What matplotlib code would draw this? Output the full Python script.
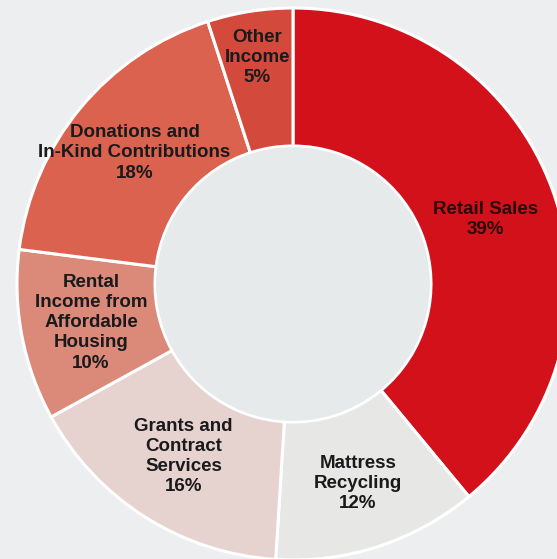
import matplotlib.pyplot as plt
import matplotlib.patches as mpatches
import numpy as np

# Revenue sources (clockwise from 12 o'clock)
labels = ['Retail Sales', 'Mattress\nRecycling', 'Grants and\nContract\nServices',
          'Rental\nIncome from\nAffordable\nHousing', 'Donations and\nIn-Kind Contributions',
          'Other\nIncome']
shares = [39, 12, 16, 10, 18, 5]
colors = ['#D2111B', '#E7E8E6', '#E6D3CF', '#DB8A79', '#DA624F', '#D3493B']
label_dist = [0.735, 0.76, 0.74, 0.745, 0.745, 0.83]
label_turn = [-1.2, 0, 0, 0, 0, 0]   # small angle nudges, degrees

W, H = 557, 559
fig = plt.figure(figsize=(W / 100, H / 100), dpi=100, facecolor='#EDEEEF')
ax = fig.add_axes([0, 0, 1, 1])
ax.set_facecolor('#EDEEEF')

cx, cy = 293, H - 284
R = 276

wedges, _ = ax.pie(shares, colors=colors, startangle=90, counterclock=False,
                   radius=R, center=(cx, cy),
                   wedgeprops=dict(width=R * 0.5, edgecolor='white', linewidth=2.2))

# hole is a touch bluer than the page in the photo
ax.add_patch(mpatches.Circle((cx, cy), R * 0.5 - 1.2, facecolor='#E6EAEA', edgecolor='none', zorder=3))

for w, lab, pct, d, t in zip(wedges, labels, shares, label_dist, label_turn):
    ang = np.deg2rad((w.theta1 + w.theta2) / 2 + t)
    x = cx + d * R * np.cos(ang)
    y = cy + d * R * np.sin(ang)
    txt_color = '#2a0a0a' if lab == 'Retail Sales' else '#1a1a1c'
    ax.text(x, y, f'{lab}\n{pct}%', ha='center', va='center', fontsize=13.5,
            fontweight='bold', family='Liberation Sans', color=txt_color,
            linespacing=1.25, zorder=4)

ax.set_xlim(0, W)
ax.set_ylim(0, H)
ax.set_aspect('auto')
ax.axis('off')

plt.savefig('out.png', dpi=100, facecolor=fig.get_facecolor())
plt.close()
